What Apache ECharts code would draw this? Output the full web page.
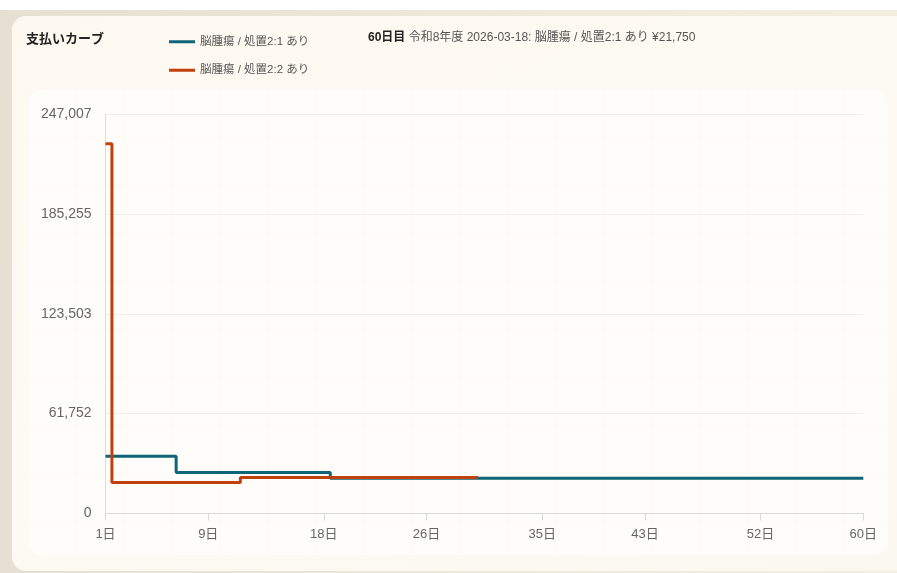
<!DOCTYPE html>
<html>
<head>
<meta charset="utf-8">
<script src="https://cdn.jsdelivr.net/npm/echarts@6/dist/echarts.min.js"></script>
<style>
  html, body { margin: 0; padding: 0; background: #fff; }
  #wrap { position: relative; width: 897px; height: 573px; overflow: hidden; }
  .band { position: absolute; left: 0; top: 10px; width: 897px; height: 563px;
          background: linear-gradient(90deg, #e5e0d3 0%, #efe9dc 60%, #f3eee2 100%); }
  .card { position: absolute; left: 12px; top: 16px; width: 900px; height: 555px; border-radius: 14px;
          background: linear-gradient(160deg, #fdf9f0 0%, #fdfaf4 60%, #fbf8f1 100%); }
  .panel { position: absolute; left: 28px; top: 89px; width: 860px; height: 466px; border-radius: 14px;
           background-color: #fefdfa;
           background-image: linear-gradient(rgba(0,0,0,0.012) 1px, transparent 1px),
                             linear-gradient(90deg, rgba(0,0,0,0.012) 1px, transparent 1px);
           background-size: 48px 48px; }
  #chart { position: absolute; left: 0; top: 0; width: 897px; height: 573px; }
</style>
</head>
<body>
<div id="wrap">
  <div class="band"></div>
  <div class="card"></div>
  <div class="panel"></div>
  <div id="chart"></div>
</div>
<script>
// 日数（1日〜60日）
var days = [];
for (var d = 1; d <= 60; d++) days.push(d);

// x軸に表示する日
var xTickDays = [1, 9, 18, 26, 35, 43, 52, 60];

// y軸の上限（ラベル 0 / 61,752 / 123,503 / 185,255 / 247,007）
var yMax = 247006.8;

var seriesNames = ['脳腫瘍 / 処置2:1 あり', '脳腫瘍 / 処置2:2 あり'];

// 処置2:1 あり（1日〜60日）
var plan1 = [
  35300, 35300, 35300, 35300, 35300, 35300,
  25200, 25200, 25200, 25200, 25200, 25200, 25200, 25200, 25200, 25200, 25200, 25200,
  21750, 21750, 21750, 21750, 21750, 21750, 21750, 21750, 21750, 21750,
  21750, 21750, 21750, 21750, 21750, 21750, 21750, 21750, 21750, 21750,
  21750, 21750, 21750, 21750, 21750, 21750, 21750, 21750, 21750, 21750,
  21750, 21750, 21750, 21750, 21750, 21750, 21750, 21750, 21750, 21750,
  21750, 21750
];

// 処置2:2 あり（1日〜30日）
var plan2 = [
  228710,
  19000, 19000, 19000, 19000, 19000, 19000, 19000, 19000, 19000, 19000,
  22200, 22200, 22200, 22200, 22200, 22200, 22200, 22200, 22200, 22200,
  22200, 22200, 22200, 22200, 22200, 22200, 22200, 22200, 22200
];

var colors = ['#0f6577', '#c0410c'];

var chart = echarts.init(document.getElementById('chart'), null, { renderer: 'canvas' });

var option = {
  backgroundColor: 'transparent',
  color: colors,
  animation: false,
  textStyle: { fontFamily: '"Liberation Sans", "Noto Sans CJK JP", sans-serif' },
  title: [
    {
      text: '支払いカーブ',
      left: 21,
      top: 28,
      textStyle: { fontSize: 13, fontWeight: 'bold', color: '#222' }
    },
    {
      text: '{b|60日目}{n| 令和8年度 2026-03-18: 脳腫瘍 / 処置2:1 あり ¥21,750}',
      left: 363,
      top: 27,
      textStyle: {
        fontWeight: 'normal',
        rich: {
          b: { fontSize: 12, fontWeight: 'bold', color: '#222' },
          n: { fontSize: 12, fontWeight: 'normal', color: '#555' }
        }
      }
    }
  ],
  legend: {
    orient: 'vertical',
    left: 164,
    top: 31,
    icon: 'rect',
    itemWidth: 26,
    itemHeight: 3,
    itemGap: 17,
    textStyle: { fontSize: 11.5, color: '#555' },
    data: seriesNames
  },
  grid: { left: 105.5, right: 33.7, top: 114.3, bottom: 59.7 },
  xAxis: {
    type: 'category',
    boundaryGap: false,
    data: days,
    axisLine: { lineStyle: { color: '#d9d9d9' } },
    axisTick: {
      length: 7,
      lineStyle: { color: '#d9d9d9' },
      interval: function (idx) { return xTickDays.indexOf(days[idx]) >= 0; }
    },
    axisLabel: {
      color: '#666',
      fontSize: 13,
      margin: 15,
      interval: function (idx) { return xTickDays.indexOf(days[idx]) >= 0; },
      formatter: function (v) { return v + '日'; }
    },
    splitLine: { show: false }
  },
  yAxis: {
    type: 'value',
    min: 0,
    max: yMax,
    interval: yMax / 4,
    axisLine: { show: true, lineStyle: { color: '#dcdcdc' } },
    axisTick: { show: false },
    axisLabel: {
      color: '#666',
      fontSize: 14,
      margin: 14,
      formatter: function (v) { return Math.round(v).toLocaleString('en-US'); }
    },
    splitLine: { lineStyle: { color: '#f1efeb', width: 1 } }
  },
  series: [
    {
      name: seriesNames[0],
      type: 'line',
      step: 'middle',
      symbol: 'none',
      lineStyle: { width: 3, color: colors[0] },
      data: plan1
    },
    {
      name: seriesNames[1],
      type: 'line',
      step: 'middle',
      symbol: 'none',
      lineStyle: { width: 3, color: colors[1] },
      data: plan2
    }
  ]
};

chart.setOption(option);
</script>
</body>
</html>
